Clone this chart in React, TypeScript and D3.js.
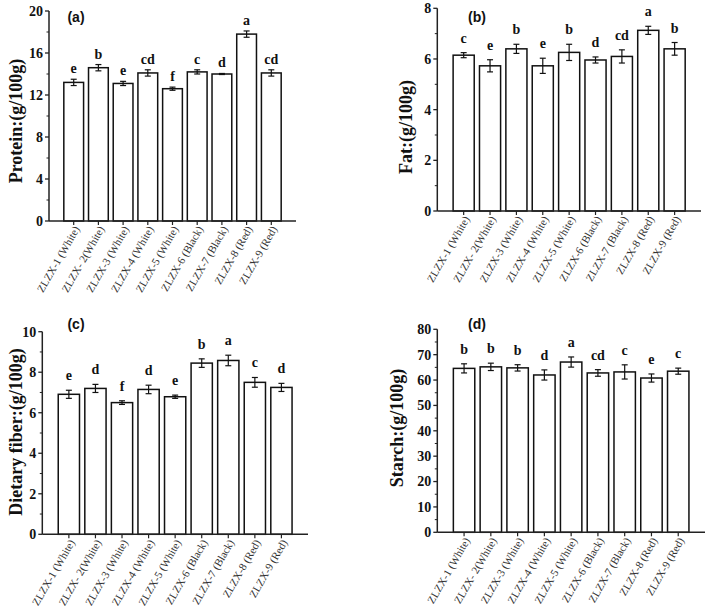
import React from "react";
import * as d3 from "d3";

const categories = [
  "ZLZX-1 (White)",
  "ZLZX- 2(White)",
  "ZLZX-3 (White)",
  "ZLZX-4 (White)",
  "ZLZX-5 (White)",
  "ZLZX-6 (Black)",
  "ZLZX-7 (Black)",
  "ZLZX-8 (Red)",
  "ZLZX-9 (Red)",
];

const proteinValues = [13.2, 14.6, 13.1, 14.1, 12.6, 14.2, 14.0, 17.8, 14.1];
const proteinErrors = [0.3, 0.3, 0.2, 0.3, 0.15, 0.2, 0.05, 0.3, 0.3];
const proteinLetters = ["e", "b", "e", "cd", "f", "c", "d", "a", "cd"];

const fatValues = [6.15, 5.73, 6.4, 5.73, 6.26, 5.96, 6.1, 7.13, 6.4];
const fatErrors = [0.1, 0.24, 0.18, 0.3, 0.32, 0.12, 0.26, 0.16, 0.25];
const fatLetters = ["c", "e", "b", "e", "b", "d", "cd", "a", "b"];

const fiberValues = [6.91, 7.2, 6.5, 7.15, 6.79, 8.45, 8.58, 7.5, 7.25];
const fiberErrors = [0.2, 0.2, 0.09, 0.21, 0.08, 0.21, 0.26, 0.24, 0.2];
const fiberLetters = ["e", "d", "f", "d", "e", "b", "a", "c", "d"];

const starchValues = [64.6, 65.2, 64.8, 62.0, 67.1, 62.8, 63.2, 60.8, 63.5];
const starchErrors = [1.8, 1.45, 1.25, 2.0, 2.0, 1.3, 2.8, 1.6, 1.2];
const starchLetters = ["b", "b", "b", "d", "a", "cd", "c", "e", "c"];

type PanelCfg = {
  tag: string;
  title: string;
  values: number[];
  errors: number[];
  letters: string[];
  max: number;
  major: number;
  minor: number;
  x0: number;
  x1: number;
  yTop: number;
  yBot: number;
  titleX: number;
  titleY: number;
  tagX: number;
  tagY: number;
  letterGap: number;
};

const panels: PanelCfg[] = [
  {
    tag: "(a)", title: "Protein:(g/100g)", values: proteinValues, errors: proteinErrors, letters: proteinLetters,
    max: 20, major: 4, minor: 2, x0: 49, x1: 296, yTop: 11, yBot: 221,
    titleX: 16, titleY: 121, tagX: 76, tagY: 17, letterGap: 6,
  },
  {
    tag: "(b)", title: "Fat:(g/100g)", values: fatValues, errors: fatErrors, letters: fatLetters,
    max: 8, major: 2, minor: 1, x0: 437.3, x1: 701, yTop: 8.3, yBot: 211,
    titleX: 406, titleY: 127, tagX: 477, tagY: 17, letterGap: 10,
  },
  {
    tag: "(c)", title: "Dietary fiber:(g/100g)", values: fiberValues, errors: fiberErrors, letters: fiberLetters,
    max: 10, major: 2, minor: 1, x0: 42.3, x1: 308, yTop: 331.7, yBot: 534.3,
    titleX: 16, titleY: 432, tagX: 76, tagY: 324, letterGap: 10,
  },
  {
    tag: "(d)", title: "Starch:(g/100g)", values: starchValues, errors: starchErrors, letters: starchLetters,
    max: 80, major: 10, minor: 5, x0: 437.3, x1: 705, yTop: 329.3, yBot: 532.3,
    titleX: 397, titleY: 428, tagX: 477, tagY: 324, letterGap: 10,
  },
];

const serif = "'Liberation Serif', 'Times New Roman', serif";
const sans = "'Liberation Sans', Arial, sans-serif";

function Panel({ p }: { p: PanelCfg }) {
  const x = d3.scaleLinear().domain([0, 10]).range([p.x0, p.x1]);
  const y = d3.scaleLinear().domain([0, p.max]).range([p.yBot, p.yTop]);
  const step = x(1) - x(0);
  const bw = step * 0.8;
  const majorTicks = d3.range(0, p.max + 1e-9, p.major);
  const minorTicks = d3.range(0, p.max + 1e-9, p.minor).filter(
    (v) => Math.abs(v / p.major - Math.round(v / p.major)) > 1e-6
  );
  const axisColor = "#222";
  return (
    <g>
      {p.values.map((v, i) => {
        const cx = x(i + 1);
        const top = y(v);
        const eTop = y(v + p.errors[i]);
        const eBot = y(v - p.errors[i]);
        return (
          <g key={i}>
            <rect x={cx - bw / 2} y={top} width={bw} height={p.yBot - top} fill="#fff" stroke="#111" strokeWidth={1.5} />
            <line x1={cx} x2={cx} y1={eTop} y2={eBot} stroke="#111" strokeWidth={1.2} />
            <line x1={cx - 3} x2={cx + 3} y1={eTop} y2={eTop} stroke="#111" strokeWidth={1.2} />
            <line x1={cx - 3} x2={cx + 3} y1={eBot} y2={eBot} stroke="#111" strokeWidth={1.2} />
            <text x={cx} y={eTop - p.letterGap} textAnchor="middle" fontFamily={serif} fontWeight="bold" fontSize={14} fill="#111">
              {p.letters[i]}
            </text>
          </g>
        );
      })}
      {/* axes */}
      <line x1={p.x0} x2={p.x0} y1={p.yTop} y2={p.yBot} stroke={axisColor} strokeWidth={1.5} />
      <line x1={p.x0} x2={p.x1} y1={p.yBot} y2={p.yBot} stroke={axisColor} strokeWidth={1.5} />
      {majorTicks.map((t) => (
        <g key={"M" + t}>
          <line x1={p.x0 - 4} x2={p.x0} y1={y(t)} y2={y(t)} stroke={axisColor} strokeWidth={1.3} />
          <text x={p.x0 - 6} y={y(t)} dy="0.35em" textAnchor="end" fontFamily={serif} fontWeight="bold" fontSize={14} fill="#111">
            {t}
          </text>
        </g>
      ))}
      {minorTicks.map((t) => (
        <line key={"m" + t} x1={p.x0 - 2.5} x2={p.x0} y1={y(t)} y2={y(t)} stroke={axisColor} strokeWidth={1} />
      ))}
      {categories.map((c, i) => {
        const cx = x(i + 1);
        return (
          <g key={c}>
            <line x1={cx} x2={cx} y1={p.yBot} y2={p.yBot + 4} stroke={axisColor} strokeWidth={1.2} />
            <text
              transform={`translate(${cx + 3},${p.yBot + 6}) rotate(-60)`}
              dy="0.35em"
              textAnchor="end"
              fontFamily={serif}
              fontSize={11}
              fill="#333"
            >
              {c}
            </text>
          </g>
        );
      })}
      <text x={p.tagX} y={p.tagY} dy="0.35em" textAnchor="middle" fontFamily={sans} fontWeight="bold" fontSize={14} fill="#111">
        {p.tag}
      </text>
      <text
        transform={`translate(${p.titleX},${p.titleY}) rotate(-90)`}
        dy="0.35em"
        textAnchor="middle"
        fontFamily={serif}
        fontWeight="bold"
        fontSize={18}
        fill="#111"
      >
        {p.title}
      </text>
    </g>
  );
}

export default function App() {
  return (
    <svg
      width={709}
      height={607}
      style={{ position: "absolute", left: 0, top: 0, background: "#fff" }}
    >
      <rect x={0} y={0} width={709} height={607} fill="#fff" />
      {panels.map((p) => (
        <Panel key={p.tag} p={p} />
      ))}
    </svg>
  );
}
